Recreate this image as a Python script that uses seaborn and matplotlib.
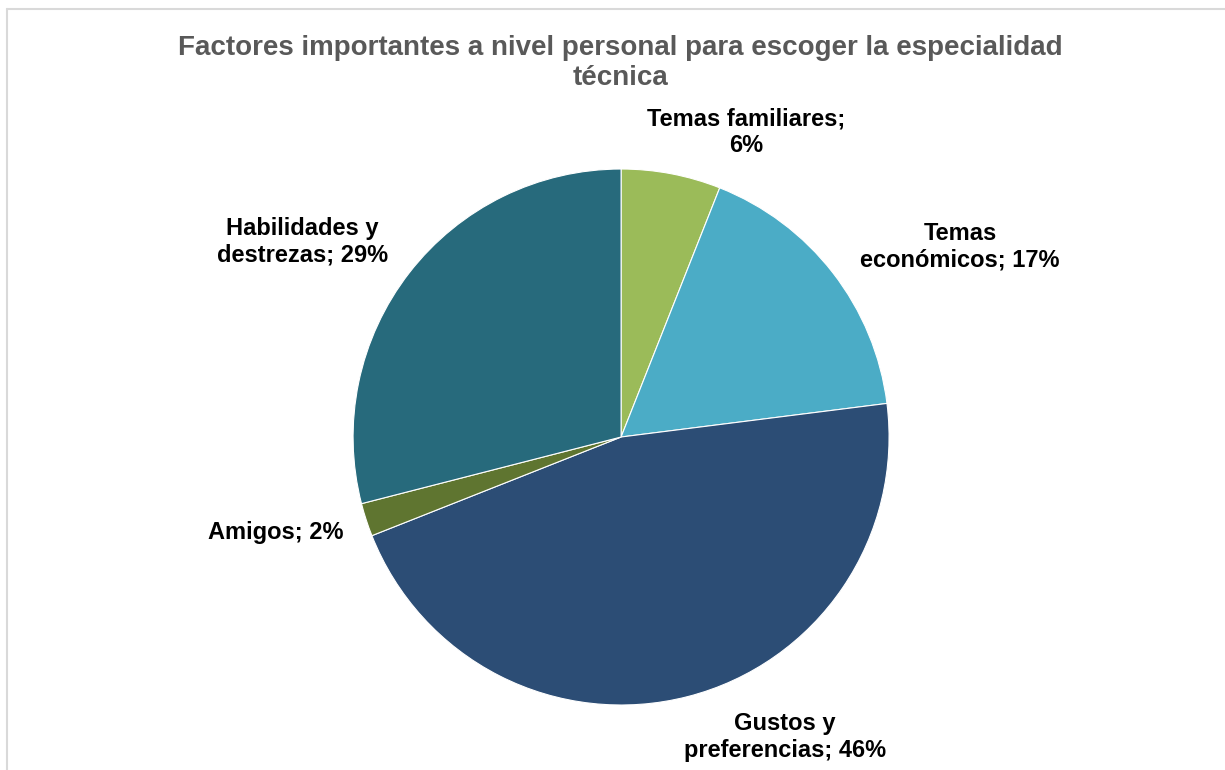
import matplotlib
matplotlib.use("Agg")
import matplotlib.pyplot as plt
import seaborn as sns

# Data
categorias = ['Temas familiares', 'Temas económicos', 'Gustos y preferencias',
              'Amigos', 'Habilidades y destrezas']
porcentajes = [6, 17, 46, 2, 29]
etiquetas = ['Temas familiares;\n6%', 'Temas\neconómicos; 17%',
             'Gustos y\npreferencias; 46%', 'Amigos; 2%',
             'Habilidades y\ndestrezas; 29%']
colores = ['#9BBB59', '#4BACC6', '#2C4D75', '#5F7530', '#276A7C']

sns.set_theme(style='white')
plt.rcParams['font.family'] = ['Liberation Sans', 'DejaVu Sans']

fig = plt.figure(figsize=(12.25, 7.7), dpi=100)
fig.patch.set_facecolor('white')

# light frame of the chart area (cropped at right/bottom)
fig.add_artist(plt.Line2D([7/1225, 7/1225], [0, 1 - 9/770], color='#d9d9d9', lw=1.5))
fig.add_artist(plt.Line2D([7/1225, 1], [1 - 9/770, 1 - 9/770], color='#d9d9d9', lw=1.5))

ax = fig.add_axes([0.2882, 0.0844, 0.4376, 0.6961])
wedges, _ = ax.pie(porcentajes, colors=colores, startangle=90, counterclock=False,
                   radius=1, wedgeprops=dict(edgecolor='white', linewidth=0.8))
ax.set_xlim(-1, 1)
ax.set_ylim(-1, 1)
ax.set_aspect('equal')
ax.axis('off')

# label positions (in radius units, relative to pie centre)
pos = [(0.466, 1.138), (1.265, 0.709), (0.612, -1.119), (-1.287, -0.358), (-1.19, 0.728)]
for (x, y), txt in zip(pos, etiquetas):
    ax.text(x, y, txt, ha='center', va='center', fontsize=17, fontweight='bold',
            color='black', linespacing=1.2, clip_on=False)

fig.text(0.5065, 1 - 63/770,
         'Factores importantes a nivel personal para escoger la especialidad\ntécnica',
         ha='center', va='center', fontsize=20, fontweight='bold', color='#595959',
         linespacing=1.2)

fig.savefig('out.png', dpi=100, facecolor='white')
